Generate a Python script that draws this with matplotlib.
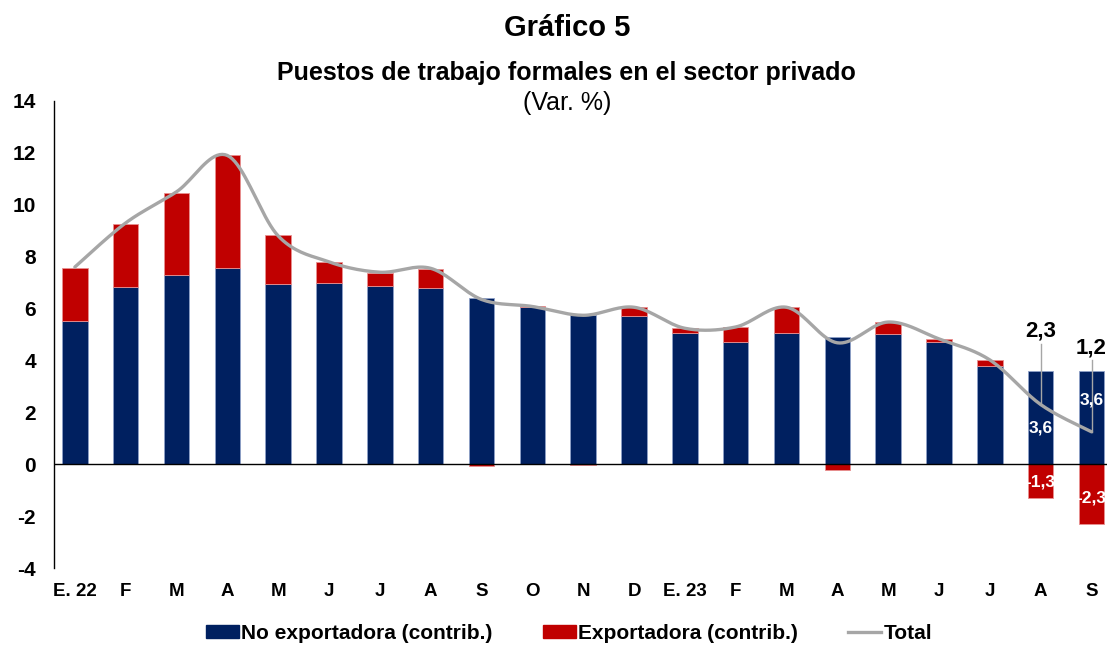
import matplotlib.pyplot as plt
import numpy as np
from matplotlib.lines import Line2D
from matplotlib.patches import Patch

plt.rcParams['font.family'] = ['Liberation Sans', 'DejaVu Sans']
plt.rcParams['axes.unicode_minus'] = False

# data
meses = ['E. 22', 'F', 'M', 'A', 'M', 'J', 'J', 'A', 'S', 'O', 'N', 'D',
         'E. 23', 'F', 'M', 'A', 'M', 'J', 'J', 'A', 'S']
no_export = [5.52, 6.83, 7.30, 7.57, 6.95, 6.99, 6.87, 6.81, 6.40, 6.05, 5.74,
             5.73, 5.07, 4.72, 5.07, 4.90, 5.00, 4.71, 3.78, 3.60, 3.60]
export = [2.05, 2.44, 3.16, 4.36, 1.89, 0.81, 0.50, 0.72, -0.05, 0.03, -0.03,
          0.32, 0.17, 0.57, 0.98, -0.22, 0.48, 0.12, 0.24, -1.30, -2.30]
total = [7.6, 9.3, 10.5, 11.9, 8.8, 7.8, 7.4, 7.55, 6.35, 6.08, 5.74,
         6.05, 5.24, 5.29, 6.05, 4.68, 5.48, 4.83, 4.02, 2.30, 1.25]
total_lbl = {19: '2,3', 20: '1,2'}


def suavizar(x, y, n=20):
    # Catmull-Rom, like the smoothed line of a spreadsheet chart
    x = np.asarray(x, float)
    y = np.asarray(y, float)
    px = np.r_[x[0], x, x[-1]]
    py = np.r_[y[0], y, y[-1]]
    xs, ys = [], []
    t = np.linspace(0, 1, n, endpoint=False)
    for i in range(1, len(px) - 2):
        for p, out in ((px, xs), (py, ys)):
            p0, p1, p2, p3 = p[i - 1], p[i], p[i + 1], p[i + 2]
            out.extend(0.5 * (2 * p1 + (-p0 + p2) * t
                              + (2 * p0 - 5 * p1 + 4 * p2 - p3) * t ** 2
                              + (-p0 + 3 * p1 - 3 * p2 + p3) * t ** 3))
    xs.append(x[-1])
    ys.append(y[-1])
    return np.array(xs), np.array(ys)


azul = '#002060'
rojo = '#C00000'
gris = '#A6A6A6'

fig = plt.figure(figsize=(11.07, 6.46), dpi=100)
ax = fig.add_axes([0.0488, 0.1207, 0.951, 0.723])

x = np.arange(len(meses))
ne = np.array(no_export)
ex = np.array(export)
base_ex = np.where(ex >= 0, ne, 0)

ax.bar(x, ne, 0.5, color=azul, edgecolor='#8EA0C8', linewidth=0.6, zorder=2)
ax.bar(x, ex, 0.5, bottom=base_ex, color=rojo, edgecolor='#E89090',
       linewidth=0.6, zorder=2)

sx, sy = suavizar(x, total)
ax.plot(sx, sy, color=gris, lw=2.4, zorder=3, solid_capstyle='round')

ax.axhline(0, color='black', lw=1.0, zorder=4)

# labels on the last two bars
ax.text(19, 1.4, '3,6', color='white', fontsize=12.5, fontweight='bold',
        ha='center', va='center', zorder=5)
ax.text(20, 2.47, '3,6', color='white', fontsize=12.5, fontweight='bold',
        ha='center', va='center', zorder=5)
ax.text(19, -0.68, '-1,3', color='white', fontsize=12.5, fontweight='bold',
        ha='center', va='center', zorder=5)
ax.text(20, -1.3, '-2,3', color='white', fontsize=12.5, fontweight='bold',
        ha='center', va='center', zorder=5)

for i, lbl in total_lbl.items():
    top = 4.65 if i == 19 else 4.0
    ax.plot([i, i], [total[i], top], color=gris, lw=1.0, zorder=4)
    ax.text(i, top + 0.08, lbl, fontsize=16, fontweight='bold',
            ha='center', va='bottom', zorder=5)

ax.set_xlim(-0.41, 20.3)
ax.set_ylim(-4, 14)
ax.set_yticks(range(-4, 15, 2))
ax.set_xticks(x)
ax.set_xticklabels(meses)
ax.tick_params(axis='y', length=0, labelsize=15, pad=13)
ax.tick_params(axis='x', length=0, labelsize=13.5, pad=11)
for lab in ax.get_xticklabels() + ax.get_yticklabels():
    lab.set_fontweight('bold')
for s in ('top', 'right', 'bottom'):
    ax.spines[s].set_visible(False)
ax.spines['left'].set_linewidth(1.0)

fig.text(0.512, 0.957, 'Gráfico 5', fontsize=21, fontweight='bold',
         ha='center', va='center')
fig.text(0.512, 0.887, 'Puestos de trabajo formales en el sector privado',
         fontsize=18, fontweight='bold', ha='center', va='center')
fig.text(0.512, 0.840, '(Var. %)', fontsize=18, ha='center', va='center')

handles = [Patch(color=azul), Patch(color=rojo),
           Line2D([0], [0], color=gris, lw=2.4)]
fig.legend(handles, ['No exportadora (contrib.)', 'Exportadora (contrib.)',
                     'Total'],
           loc='center', bbox_to_anchor=(0.514, 0.019), ncol=3, frameon=False,
           prop={'size': 15, 'weight': 'bold'}, handlelength=1.6,
           handleheight=0.6, handletextpad=0.1, columnspacing=2.4)

fig.savefig('out.png', dpi=100)
